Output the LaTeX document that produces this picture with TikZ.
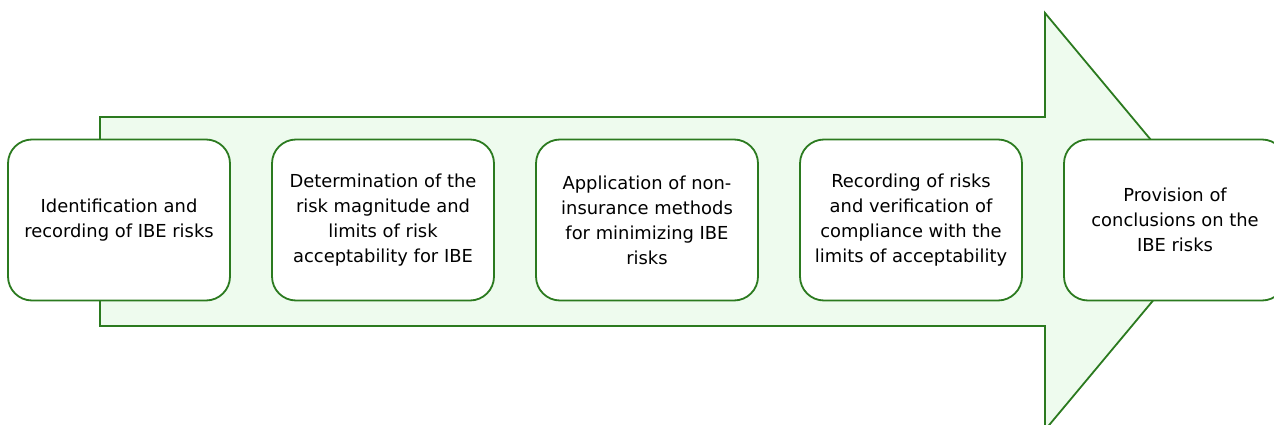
\documentclass[tikz,border=0pt]{standalone}
\usepackage{fontspec}
\setmainfont{DejaVu Sans}
\usetikzlibrary{positioning}

\definecolor{stagegreen}{HTML}{2B7A1F}
\definecolor{arrowgreen}{HTML}{EEFBEE}

\tikzset{
  stage/.style={draw=stagegreen, line width=1.8pt, fill=white,
    rounded corners=24pt, minimum width=222pt, minimum height=161pt,
    inner sep=0pt, outer sep=0pt,
    align=center, font=\fontsize{17.9}{25}\selectfont},
  bigarrow/.style={draw=stagegreen, line width=1.8pt, fill=arrowgreen}
}

\begin{document}
\begin{tikzpicture}[x=1pt,y=-1pt]
  \useasboundingbox (0,0) rectangle (1274,425);
  \clip (0,0) rectangle (1274,425);

  % the broad arrow behind the stages
  \draw[bigarrow] (100,117) -- (1045,117) -- (1045,13) -- (1219,221.5)
    -- (1045,430) -- (1045,326) -- (100,326) -- cycle;

  % stages, left to right
  \node[stage] (ident) at (119,220)
    {Identification and\\recording of IBE risks};
  \node[stage, right=42pt of ident] (limits)
    {Determination of the\\risk magnitude and\\limits of risk\\acceptability for IBE};
  \node[stage, right=42pt of limits] (methods)
    {Application of non-\\insurance methods\\for minimizing IBE\\risks};
  \node[stage, right=42pt of methods] (verify)
    {Recording of risks\\and verification of\\compliance with the\\limits of acceptability};
  \node[stage, right=42pt of verify] (concl)
    {Provision of\\conclusions on the\\IBE risks};
\end{tikzpicture}
\end{document}
